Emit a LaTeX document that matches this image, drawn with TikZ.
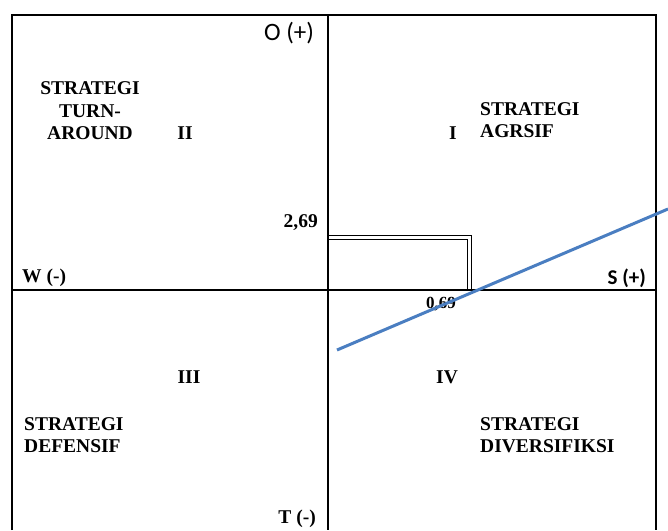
\documentclass[tikz,border=0pt]{standalone}
\usepackage{fontspec}
\setmainfont{Liberation Serif}
\newfontfamily\calib{Carlito}
\begin{document}
\begin{tikzpicture}[x=1pt,y=-1pt,
  lbl/.style={font=\fontsize{19.5}{22.5}\selectfont\bfseries, inner sep=0pt},
  lblL/.style={lbl, align=left, anchor=north west},
  lblC/.style={lbl, align=center},
  frame/.style={draw=black, line width=1.2pt}]
\useasboundingbox (0,0) rectangle (668,530);
% frame and axes
\coordinate (tl) at (12,15);
\coordinate (tr) at (656,15);
\coordinate (bl) at (12,530);
\coordinate (br) at (656,530);
\coordinate (tm) at (328,15);
\coordinate (bm) at (328,530);
\coordinate (ml) at (12,290);
\coordinate (mr) at (656,290);
\draw[frame] (bl) -- (tl) -- (tr) -- (br);
\draw[frame] (tm) -- (bm);
\draw[frame] (ml) -- (mr);
% double-line box
\coordinate (b1) at (328,235.5);
\coordinate (b2) at (471,235.5);
\coordinate (b3) at (471,290);
\coordinate (c1) at (328,239.5);
\coordinate (c2) at (467,239.5);
\coordinate (c3) at (467,290);
\draw[line width=1pt] (b1) -- (b2) -- (b3);
\draw[line width=1pt] (c1) -- (c2) -- (c3);
% labels
\node[inner sep=0pt, font=\calib\fontsize{25}{28}\selectfont] (o) at (289,33) {O (+)};
\node[lblC] (t2) at (90,111) {STRATEGI\\TURN-\\AROUND};
\node[lbl] (n2) at (185,133) {II};
\node[lbl] (n1) at (453,133) {I};
\node[lblL] (t1) at (480,102) {STRATEGI\\AGRSIF};
\node[lbl, anchor=east] (v269) at (318,223) {2,69};
\node[lbl, anchor=west] (w) at (22,278) {W (-)};
\node[inner sep=0pt, anchor=east, font=\calib\bfseries\fontsize{21}{24}\selectfont] (s) at (646,278) {S (+)};
\node[lbl, font=\fontsize{17}{20}\selectfont\bfseries] (v069) at (441,304) {0,69};
\node[lbl] (n3) at (189,377) {III};
\node[lbl] (n4) at (447,377) {IV};
\node[lblL] (t3) at (24,417) {STRATEGI\\DEFENSIF};
\node[lblL] (t4) at (480,417) {STRATEGI\\DIVERSIFIKSI};
\node[lbl, anchor=east] (tt) at (316,519) {T (-)};
% blue line
\coordinate (p1) at (337,350);
\coordinate (p2) at (668,209);
\draw[line width=3pt, color={rgb,255:red,74;green,126;blue,193}] (p1) -- (p2);
\end{tikzpicture}
\end{document}
